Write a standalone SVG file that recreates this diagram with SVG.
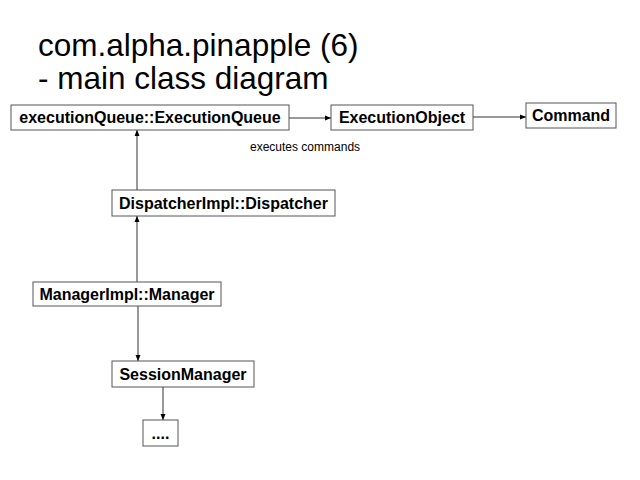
<svg xmlns="http://www.w3.org/2000/svg" width="640" height="480" viewBox="0 0 640 480">
<defs>
<marker id="ah" markerWidth="6" markerHeight="6" refX="6" refY="3" orient="auto" markerUnits="userSpaceOnUse">
<path d="M0,0.5 L6,3 L0,5.5 Z" fill="#000"/>
</marker>
<style>
.box{fill:#fff;stroke:#555;stroke-width:1}
.lbl{font-family:"Liberation Sans",Arial,sans-serif;font-weight:bold;font-size:16px;fill:#000;text-anchor:middle}
.ttl{font-family:"Liberation Sans",Arial,sans-serif;font-size:31.5px;fill:#000}
.edge{stroke:#333;stroke-width:1;fill:none;marker-end:url(#ah)}
.note{font-family:"Liberation Sans",Arial,sans-serif;font-size:12px;fill:#000}
</style>
</defs>
<rect width="640" height="480" fill="#fff"/>
<text class="ttl" x="38" y="56">com.alpha.pinapple (6)</text>
<text class="ttl" x="38" y="89">- main class diagram</text>
<g id="connectors">
<line class="edge" x1="289" y1="118" x2="331" y2="118"/>
<line class="edge" x1="473" y1="117" x2="526" y2="117"/>
<line class="edge" x1="137" y1="190" x2="137" y2="130"/>
<line class="edge" x1="137" y1="282" x2="137" y2="216"/>
<line class="edge" x1="138" y1="306" x2="138" y2="361"/>
<line class="edge" x1="163" y1="387" x2="163" y2="420"/>
</g>
<g id="n_execqueue">
<rect class="box" x="11" y="105" width="278" height="25"/>
<text class="lbl" x="150" y="123">executionQueue::ExecutionQueue</text>
</g>
<g id="n_execobject">
<rect class="box" x="331" y="105" width="142" height="25"/>
<text class="lbl" x="402" y="123">ExecutionObject</text>
</g>
<g id="n_command">
<rect class="box" x="526" y="103" width="90" height="25"/>
<text class="lbl" x="571" y="121">Command</text>
</g>
<text class="note" x="250" y="151">executes commands</text>
<g id="n_dispatcher">
<rect class="box" x="112" y="190" width="223" height="26"/>
<text class="lbl" x="223.5" y="209">DispatcherImpl::Dispatcher</text>
</g>
<g id="n_manager">
<rect class="box" x="33" y="282" width="188" height="24"/>
<text class="lbl" x="127" y="300">ManagerImpl::Manager</text>
</g>
<g id="n_session">
<rect class="box" x="112" y="361" width="142" height="26"/>
<text class="lbl" x="183" y="380">SessionManager</text>
</g>
<g id="n_more">
<rect class="box" x="143" y="420" width="35" height="26"/>
<text class="lbl" x="160.5" y="439">....</text>
</g>
</svg>
